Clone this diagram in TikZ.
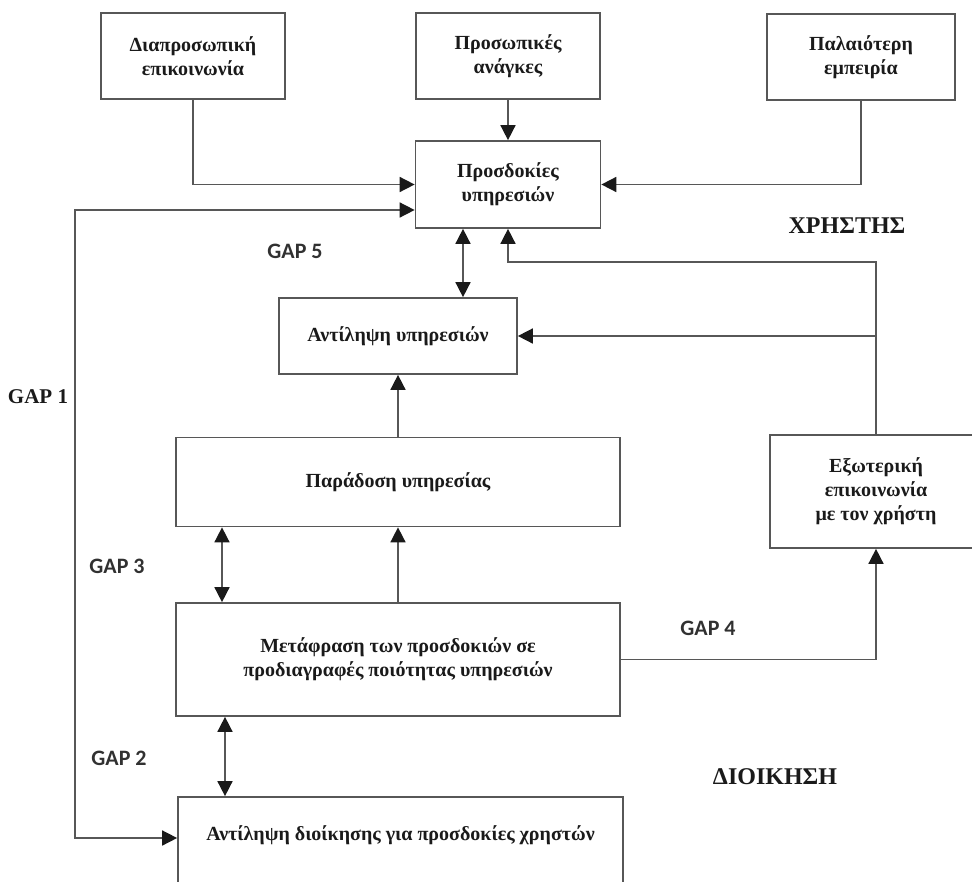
\documentclass[tikz,border=0pt]{standalone}
\usepackage{fontspec}
\setmainfont{Liberation Serif}
\newfontfamily\gapfont{Carlito}
\usepackage{tikz}
\usetikzlibrary{arrows.meta,calc}
\definecolor{linegray}{HTML}{575757}
\definecolor{textdark}{HTML}{1A1A1A}

\begin{document}
\begin{tikzpicture}[x=1pt,y=-1pt,
    box/.style={draw=linegray,line width=1.7pt,rectangle,align=center,text=textdark,
      font=\bfseries\fontsize{20}{24}\selectfont,inner sep=2pt},
    arr/.style={draw=linegray,line width=1.6pt,-{Triangle[length=15pt,width=15pt,color=textdark]}},
    darr/.style={draw=linegray,line width=1.6pt,{Triangle[length=15pt,width=15pt,color=textdark]}-{Triangle[length=15pt,width=15pt,color=textdark]}},
    gaplbl/.style={text=textdark!90,font=\gapfont\bfseries\fontsize{22}{26}\selectfont},
    side/.style={text=textdark,font=\bfseries\fontsize{24}{28}\selectfont}]
    \useasboundingbox (0,0) rectangle (972,881);
    % top row
    \node[box,minimum width=184pt,minimum height=86pt] (diap) at (193,56) {Διαπροσωπική\\επικοινωνία};
    \node[box,minimum width=184pt,minimum height=86pt] (prosan) at (508,56) {Προσωπικές\\ανάγκες};
    \node[box,minimum width=188pt,minimum height=86pt] (palai) at (861,57) {Παλαιότερη\\εμπειρία};
    \node[box,minimum width=185pt,minimum height=87pt] (prosd) at (508,184.5) {Προσδοκίες\\υπηρεσιών};
    \node[box,minimum width=238pt,minimum height=76pt] (antil) at (398,336) {Αντίληψη υπηρεσιών};
    \node[box,minimum width=444pt,minimum height=89pt] (parad) at (398,482) {Παράδοση υπηρεσίας};
    \node[box,minimum width=212pt,minimum height=113pt] (exot) at (876,491.5) {Εξωτερική\\επικοινωνία\\με τον χρήστη};
    \node[box,minimum width=444pt,minimum height=113pt] (metaf) at (398,659.5) {Μετάφραση των προσδοκιών σε\\προδιαγραφές ποιότητας υπηρεσιών};
    \node[box,minimum width=445pt,minimum height=106pt,text depth=34pt] (diois) at (400.5,850) {Αντίληψη διοίκησης για προσδοκίες χρηστών};

    \coordinate (gapturn) at (75,210);

    \draw[arr] (diap.south) |- (prosd.west);
    \draw[arr] (prosan.south) -- (prosd.north);
    \draw[arr] (palai.south) |- (prosd.east);
    \draw[darr] (prosd.west |- gapturn) -- (gapturn) |- ([yshift=12pt]diois.west);
    \draw[darr] ([xshift=-45pt]prosd.south) -- ([xshift=-45pt]prosd.south |- antil.north);
    \draw[arr] (exot.north) |- ([yshift=-33pt]prosd.south) -- (prosd.south);
    \draw[arr] (exot.north |- antil.east) -- (antil.east);
    \draw[arr] (parad.north) -- (antil.south);
    \draw[darr] ([xshift=-176pt]parad.south) -- ([xshift=-176pt]metaf.north);
    \draw[arr] (metaf.north) -- (parad.south);
    \draw[arr] (metaf.east) -| (exot.south);
    \draw[darr] ([xshift=-173pt]metaf.south) -- ([xshift=-173pt]metaf.south |- diois.north);

    \node[gaplbl] (gap5) at (295,251) {GAP 5};
    \node[side,font=\bfseries\fontsize{21}{24}\selectfont] (gap1) at (38,397) {GAP 1};
    \node[gaplbl] (gap3) at (117,566) {GAP 3};
    \node[gaplbl] (gap4) at (708,628) {GAP 4};
    \node[gaplbl] (gap2) at (119,758) {GAP 2};
    \node[side] (xrhsths) at (847,226) {ΧΡΗΣΤΗΣ};
    \node[side] (dioik) at (775,777) {ΔΙΟΙΚΗΣΗ};
  \end{tikzpicture}
\end{document}
